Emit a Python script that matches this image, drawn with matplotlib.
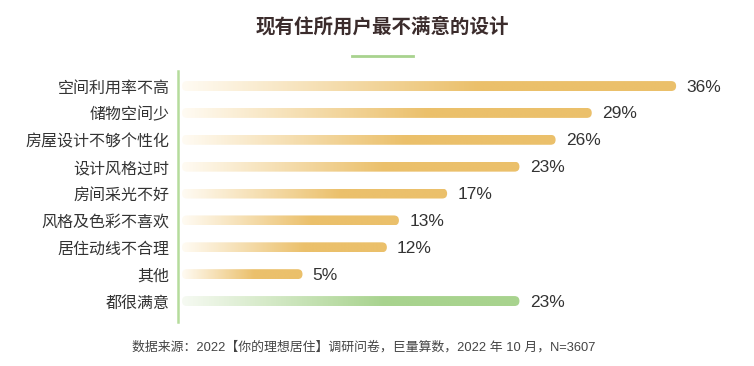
import numpy as np
import matplotlib.pyplot as plt
from matplotlib.patches import FancyBboxPatch
from matplotlib.colors import to_rgb

plt.rcParams['font.family'] = ['Noto Sans CJK SC', 'DejaVu Sans']

categories = ['空间利用率不高', '储物空间少', '房屋设计不够个性化', '设计风格过时',
              '房间采光不好', '风格及色彩不喜欢', '居住动线不合理', '其他', '都很满意']
values = [36, 29, 26, 23, 17, 13, 12, 5, 23]
kinds = ['bad'] * 8 + ['good']

title = '现有住所用户最不满意的设计'
source = '数据来源：2022【你的理想居住】调研问卷，巨量算数，2022 年 10 月，N=3607'

ends = {'bad': '#EBC06B', 'good': '#A8D38E'}
starts = {'bad': '#FFFBF3', 'good': '#F6FAF2'}

W, H = 754, 366
fig = plt.figure(figsize=(W / 100, H / 100), dpi=100)
ax_l, ax_r, ax_t, ax_b = 178, 740, 71, 322
ax = fig.add_axes([ax_l / W, 1 - ax_b / H, (ax_r - ax_l) / W, (ax_b - ax_t) / H])

base = -5.0          # bars are drawn starting here
xmin, xmax = -5.33, 41.3
ymin, ymax = 8.78, -0.56
ax.set_xlim(xmin, xmax)
ax.set_ylim(ymin, ymax)

ppx = (ax_r - ax_l) / (xmax - xmin)
ppy = (ax_b - ax_t) / (ymin - ymax)
asp = ppx / ppy
h = 0.37

t = np.clip(np.linspace(0, 1, 256) / 0.6, 0, 1)[:, None]
for i, (v, k) in enumerate(zip(values, kinds)):
    c0, c1 = np.array(to_rgb(starts[k])), np.array(to_rgb(ends[k]))
    img = (c0 * (1 - t) + c1 * t)[None, :, :]
    patch = FancyBboxPatch((base, i - h / 2), v - base, h,
                           boxstyle=f'round,pad=0,rounding_size={h / (2 * asp)}',
                           mutation_aspect=asp, facecolor='none', edgecolor='none')
    ax.add_patch(patch)
    im = ax.imshow(img, extent=[base, v, i + h / 2, i - h / 2], aspect='auto',
                   interpolation='bilinear', zorder=2)
    im.set_clip_path(patch)
    ax.text(v + 0.85, i + 0.04, f'{v}%', va='center', ha='left', fontsize=12.5,
            color='#333333', family=['Liberation Sans', 'Noto Sans CJK SC'])

ax.set_xlim(xmin, xmax)
ax.set_ylim(ymin, ymax)
ax.set_yticks(range(len(categories)), categories, fontsize=11.5, color='#333333')
ax.set_xticks([])
ax.tick_params(axis='y', length=0, pad=6)
for s in ['top', 'right', 'bottom']:
    ax.spines[s].set_visible(False)
ax.spines['left'].set_color('#B5DC9C')
ax.spines['left'].set_linewidth(1.8)

fig.text(382 / W, 1 - 27 / H, title, ha='center', va='center', fontsize=14,
         fontweight='bold', color='#3B2C2C')
fig.add_artist(plt.Line2D([352 / W, 413 / W], [1 - 55.5 / H] * 2, color='#A8D38E', lw=2))
fig.text(364 / W, 1 - 347 / H, source, ha='center', va='center', fontsize=9.3,
         color='#444444', family=['Liberation Sans', 'Noto Sans CJK SC'])

fig.savefig('out.png', dpi=100)
